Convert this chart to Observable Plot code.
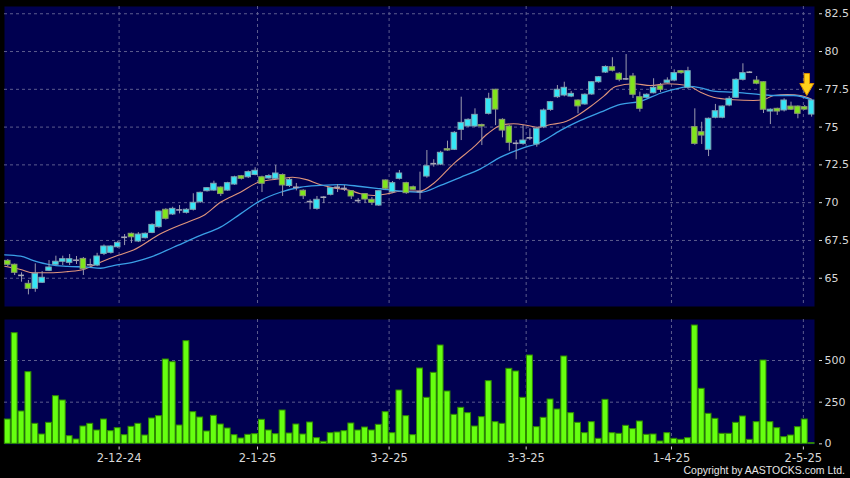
<!DOCTYPE html>
<html>
<head>
<meta charset="utf-8">
<script src="https://cdn.jsdelivr.net/npm/d3@7"></script>
<script src="https://cdn.jsdelivr.net/npm/@observablehq/plot@0.6"></script>
<style>
  html, body { margin: 0; padding: 0; background: #000; }
  #wrap { position: relative; width: 850px; height: 478px; background: #000; overflow: hidden; }
  #wrap svg { position: absolute; left: 0; display: block; }
</style>
</head>
<body>
<div id="wrap"></div>
<script>
// ---- data (index = trading day) ----
const open  = [66.15,65.89,65.20,64.63,64.30,64.70,65.49,65.89,66.09,66.02,66.20,66.28,65.90,65.84,66.61,66.68,67.05,67.70,67.94,67.43,67.65,68.00,68.38,69.53,69.22,69.53,69.33,69.53,70.03,70.76,70.80,71.00,70.80,71.20,71.75,71.68,71.83,71.68,71.60,71.58,71.83,71.10,71.03,70.79,70.08,69.59,70.36,70.52,71.00,70.95,70.76,70.14,70.57,70.19,69.81,71.47,70.69,71.58,71.29,71.02,70.74,71.73,72.57,72.52,73.54,73.50,74.82,75.04,75.04,75.14,75.88,77.47,75.48,75.04,73.94,73.89,74.30,73.85,74.99,76.14,76.98,77.09,77.02,76.76,76.50,77.16,77.97,78.61,78.96,78.53,78.20,78.35,76.98,76.94,77.24,77.71,77.93,78.08,78.70,77.60,75.00,74.66,73.50,75.62,75.62,76.43,76.94,78.13,78.63,78.08,77.97,76.03,76.21,76.10,76.36,76.36,76.32,75.83];
const high  = [66.24,65.94,65.36,64.85,65.95,65.44,66.17,66.46,66.46,66.57,66.44,66.37,66.26,66.65,67.20,67.15,67.45,67.89,67.99,68.02,68.00,68.60,69.45,69.60,69.70,69.81,69.60,70.59,70.70,71.00,71.42,71.05,71.35,71.75,71.80,72.10,72.31,71.75,71.85,72.46,71.90,71.60,71.27,70.85,70.19,70.41,70.41,71.00,71.20,71.13,70.80,70.28,70.60,70.34,70.80,71.50,71.40,72.13,71.35,71.10,72.02,73.45,72.84,73.40,74.07,74.70,76.98,75.55,76.21,75.20,77.24,77.50,75.55,75.10,74.11,75.11,74.89,74.95,76.20,76.70,77.75,77.97,77.36,76.80,77.20,78.00,78.35,79.05,79.59,78.60,79.80,78.55,77.31,77.20,78.20,77.89,78.26,78.79,78.75,78.96,76.21,75.32,75.60,76.50,76.40,77.02,78.20,79.19,78.68,78.35,78.00,76.20,76.25,76.87,76.65,76.40,76.43,76.80];
const low   = [65.77,65.18,64.74,63.90,64.07,64.65,65.44,65.84,65.84,65.84,65.91,65.18,65.81,65.77,66.50,66.60,66.98,67.16,67.30,67.36,67.60,67.95,68.30,68.85,69.15,69.26,69.25,69.45,69.95,70.70,70.75,70.41,70.75,71.15,71.50,71.60,71.78,70.67,71.55,71.50,70.41,71.00,70.78,70.21,69.53,69.50,69.94,70.45,70.67,70.74,70.21,69.94,69.94,69.81,69.75,70.85,70.60,71.50,70.55,70.80,70.19,71.62,72.35,72.45,73.40,73.45,74.11,74.98,74.98,73.78,75.80,75.10,74.29,73.40,72.84,73.80,74.11,73.67,74.90,76.05,76.90,77.00,76.95,75.88,76.45,77.10,77.90,78.55,78.65,78.00,78.08,76.89,75.99,76.90,77.20,77.28,77.88,78.00,78.50,77.50,73.80,73.85,73.05,75.55,75.55,76.35,76.90,78.05,78.55,77.80,75.90,75.17,75.77,76.00,76.10,75.55,76.10,75.66];
const close = [65.89,65.36,65.19,64.30,65.29,65.03,65.71,66.09,66.26,66.26,66.19,65.60,65.89,66.44,67.10,67.10,67.34,67.71,67.71,67.89,67.94,68.53,69.41,68.93,69.59,69.52,69.53,69.99,70.65,70.96,71.25,70.57,71.29,71.68,71.58,72.02,72.11,71.25,71.76,71.93,71.14,71.51,71.02,70.43,70.07,70.19,70.36,70.96,71.02,70.94,70.41,70.14,70.21,69.99,70.76,70.92,71.29,71.93,70.63,70.85,70.73,72.41,72.58,73.30,73.45,74.62,75.28,75.48,75.81,75.04,76.87,76.16,74.77,73.96,73.93,74.11,74.29,74.89,76.10,76.65,77.47,77.60,77.20,76.37,77.14,77.97,78.30,78.98,78.73,78.13,78.19,77.14,76.21,77.14,77.60,77.47,78.08,78.57,78.57,78.70,73.89,74.44,75.55,76.05,76.36,76.87,78.13,78.57,78.63,77.87,76.15,76.15,76.03,76.76,76.15,75.88,76.16,76.76];
const volume = [146,664,194,430,120,56,126,286,260,46,26,104,120,80,146,76,94,52,102,120,50,152,166,506,490,110,616,190,158,74,168,116,92,52,32,54,58,144,80,58,200,62,116,56,128,34,12,64,68,76,122,80,98,80,114,190,64,320,166,52,452,276,426,590,314,174,216,184,104,160,376,130,120,450,434,276,530,100,156,266,206,524,184,126,64,130,30,264,64,60,108,88,134,54,56,14,64,30,24,34,710,330,180,150,60,60,126,164,24,130,500,130,94,40,50,100,146,4];

// moving-average lines (orange = short, blue = long), read as [index, value]
const fastIdx = [-0.45,1.85,3.74,6.22,8.69,11.02,13.49,15.97,18.30,22.23,26.16,28.49,30.96,33.87,36.49,39.69,41.44,43.62,45.08,47.41,49.88,51.34,53.23,55.27,57.16,60.07,61.96,64.88,67.79,69.83,71.72,73.61,75.65,77.11,79.00,80.89,82.93,84.82,86.71,88.46,91.08,93.55,96.03,98.94,100.83,102.72,105.63,108.55,110.0,111.46,113.5,115.39,117];
const fastVal = [65.79,65.58,65.36,65.36,65.44,65.58,66.06,66.50,66.87,67.94,68.71,69.15,70.03,70.69,71.35,71.58,71.68,71.51,71.25,70.98,70.80,70.59,70.47,70.59,70.76,70.77,71.27,72.57,73.67,74.56,75.11,75.22,75.11,74.99,75.17,75.32,75.77,76.36,77.03,77.69,77.87,77.75,77.87,77.75,77.31,76.98,76.81,76.76,76.81,77.09,77.16,77.09,76.85];
const slowIdx = [-0.45,1.85,3.74,6.22,8.69,11.60,13.49,15.39,18.30,20.77,24.12,28.05,30.96,33.87,36.78,39.69,42.60,45.51,48.42,51.34,54.25,57.16,60.07,62.98,65.90,68.81,71.72,74.63,77.54,80.45,83.36,86.27,89.18,92.10,95.01,97.92,99.08,100.83,102.72,105.63,108.55,111.46,114.37,117];
const slowVal = [66.55,66.46,66.17,65.89,65.79,65.73,65.66,65.84,66.06,66.39,67.05,67.83,68.38,69.26,70.14,70.69,71.02,71.14,71.20,71.07,70.92,70.76,70.69,71.14,71.68,72.24,73.01,73.56,74.00,74.78,75.44,75.99,76.50,76.71,77.24,77.60,77.69,77.60,77.38,77.31,77.20,77.09,77.09,76.80];

// axes
const priceTicks = [65, 67.5, 70, 72.5, 75, 77.5, 80, 82.5];
const volTicks = [0, 250, 500];
const dateTickIdx = [16.2, 36.35, 55.5, 75.45, 96.6, 115.8];
const dateTickLabels = ["2-12-24", "2-1-25", "3-2-25", "3-3-25", "1-4-25", "2-5-25"];
const arrowAt = [{i: 116.3, v: 77.82}];
const copyright = "Copyright by AASTOCKS.com Ltd.";

// ---- build ----
const FONT = "'DejaVu Sans', Verdana, sans-serif";
const NAVY = "#000050";
const GRID = "#5c5c8e";
const UP = "#35e6f6", DOWN = "#80e61c", DOJI = "#a6a6b6";
const candles = open.map((o, i) => ({i, o, h: high[i], l: low[i], c: close[i], v: volume[i]}));
const ups = candles.filter(d => d.c - d.o >= 0.03);
const downs = candles.filter(d => d.o - d.c >= 0.03);
const dojis = candles.filter(d => Math.abs(d.c - d.o) < 0.03);
const fast = fastIdx.map((i, k) => ({i, v: fastVal[k]}));
const slow = slowIdx.map((i, k) => ({i, v: slowVal[k]}));
const labelOf = new Map(dateTickIdx.map((d, k) => [d, dateTickLabels[k]]));
const xDomain = [-0.48, 117.42];
const grid = {stroke: GRID, strokeDasharray: "3,3", strokeWidth: 1};

const arrowSymbol = {
  draw(ctx, size) {
    const k = Math.sqrt(size / Math.PI) / 11;
    ctx.moveTo(-2.7 * k, -11 * k);
    ctx.lineTo(2.7 * k, -11 * k);
    ctx.lineTo(2.7 * k, -1 * k);
    ctx.lineTo(7 * k, -1 * k);
    ctx.lineTo(0, 11 * k);
    ctx.lineTo(-7 * k, -1 * k);
    ctx.lineTo(-2.7 * k, -1 * k);
    ctx.closePath();
  }
};

const price = Plot.plot({
  width: 850, height: 310,
  marginLeft: 4, marginRight: 36, marginTop: 6, marginBottom: 4,
  style: {background: "transparent", fontFamily: FONT, color: "#d8d8d8"},
  x: {type: "linear", domain: xDomain, axis: null},
  y: {domain: [63.13, 82.98], axis: null},
  marks: [
    Plot.frame({fill: NAVY}),
    Plot.ruleY(priceTicks, grid),
    Plot.ruleX(dateTickIdx, grid),
    Plot.line(fast, {x: "i", y: "v", stroke: "#e0957c", strokeWidth: 1.1, curve: "monotone-x", clip: true}),
    Plot.line(slow, {x: "i", y: "v", stroke: "#3a9fe6", strokeWidth: 1.3, curve: "monotone-x", clip: true}),
    Plot.ruleX(candles, {x: "i", y1: "l", y2: "h", stroke: "#9a9aae", strokeWidth: 1}),
    Plot.rect(ups, {x1: d => d.i - 0.4, x2: d => d.i + 0.4, y1: "o", y2: "c", fill: UP, stroke: "#7fa6b4", strokeWidth: 1}),
    Plot.rect(downs, {x1: d => d.i - 0.4, x2: d => d.i + 0.4, y1: "o", y2: "c", fill: DOWN, stroke: "#8a9a70", strokeWidth: 1}),
    Plot.ruleY(dojis, {y: "c", x1: d => d.i - 0.42, x2: d => d.i + 0.42, stroke: DOJI, strokeWidth: 1.6}),
    Plot.dot(arrowAt, {x: "i", y: "v", r: 11, symbol: arrowSymbol, fill: "#ffd21a", stroke: "#d98a00", strokeWidth: 1}),
    Plot.axisY(priceTicks, {anchor: "right", tickSize: 3, tickPadding: 3, dx: 4, fontSize: 11, tickFormat: d => String(d), label: null, color: "#d8d8d8"})
  ]
});

const vol = Plot.plot({
  width: 850, height: 168,
  marginLeft: 4, marginRight: 36, marginTop: 9, marginBottom: 34,
  style: {background: "transparent", fontFamily: FONT, color: "#d8d8d8"},
  x: {type: "linear", domain: xDomain, axis: null},
  y: {domain: [-4, 746], axis: null},
  marks: [
    Plot.frame({fill: NAVY}),
    Plot.ruleY([250, 500], grid),
    Plot.ruleX(dateTickIdx, grid),
    Plot.rect(candles, {x1: d => d.i - 0.43, x2: d => d.i + 0.43, y1: 0, y2: "v", fill: "#66ff10", stroke: "#2f8a00", strokeWidth: 1}),
    Plot.axisY(volTicks, {anchor: "right", tickSize: 3, tickPadding: 3, dx: 4, fontSize: 11, tickFormat: d => String(d), label: null, color: "#d8d8d8"}),
    Plot.axisX(dateTickIdx, {anchor: "bottom", tickSize: 3, tickPadding: 4, dy: 2.5, fontSize: 11.5, tickFormat: d => labelOf.get(d), label: null, color: "#d8d8d8"})
  ]
});

const wrap = document.getElementById("wrap");
price.style.top = "0px";
vol.style.top = "310px";
wrap.appendChild(price);
wrap.appendChild(vol);

const cap = d3.create("svg").attr("width", 850).attr("height", 22)
  .style("position", "absolute").style("left", "0px").style("top", "455px");
cap.append("text")
  .attr("x", 845).attr("y", 18.5)
  .attr("text-anchor", "end")
  .attr("font-family", "'Liberation Sans', Arial, sans-serif").attr("font-size", 10.5)
  .attr("fill", "#e6e6e6")
  .text(copyright);
wrap.appendChild(cap.node());
</script>
</body>
</html>
